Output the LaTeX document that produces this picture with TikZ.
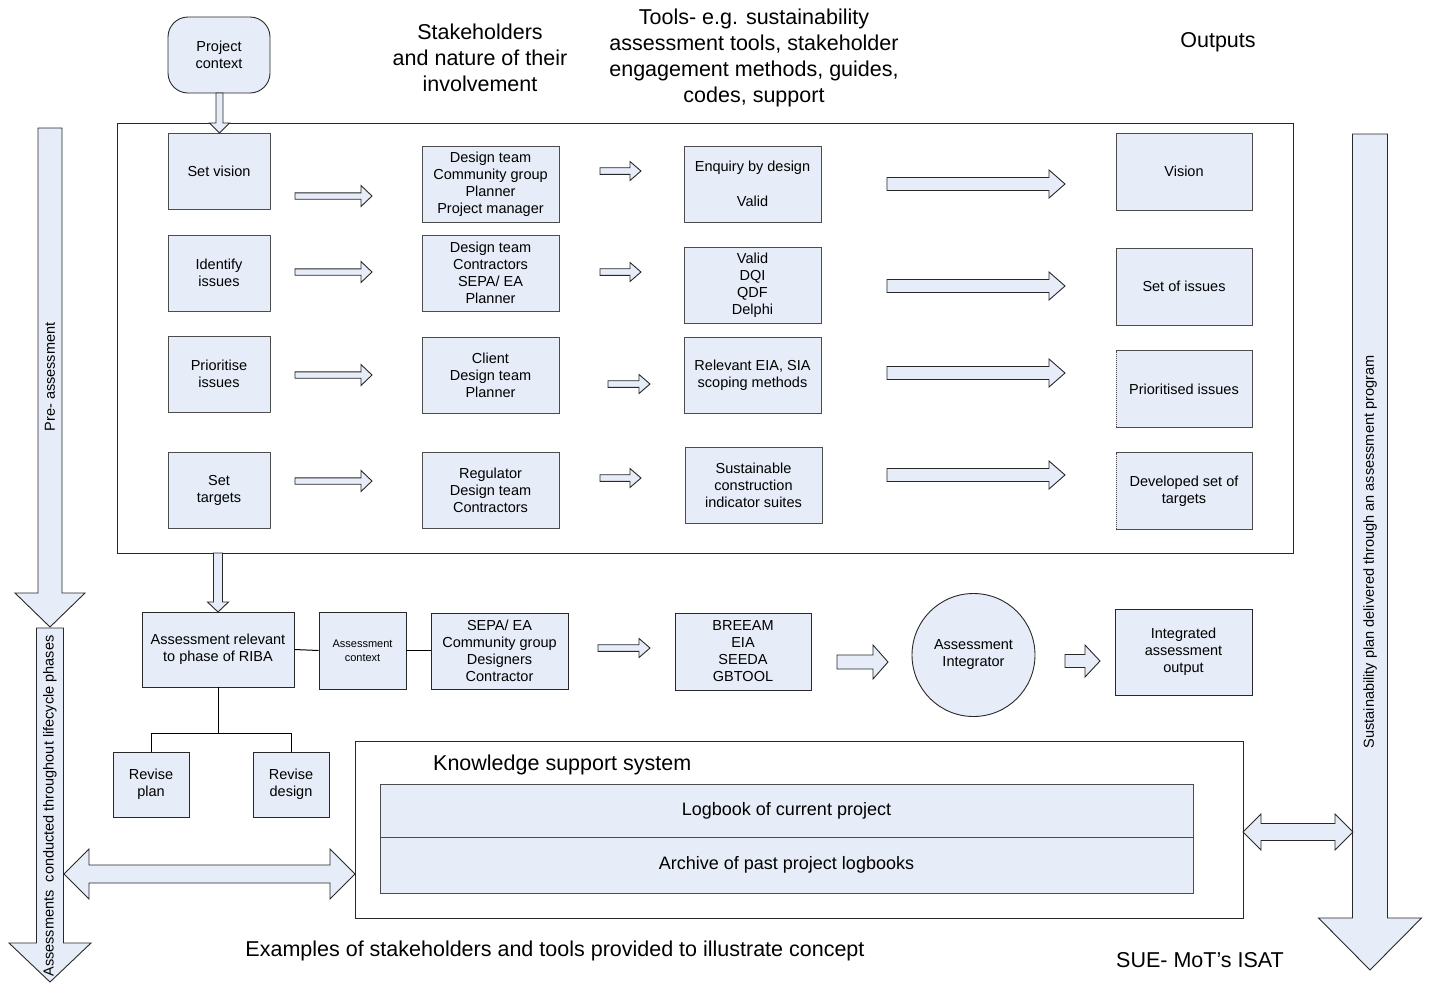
\documentclass[tikz,border=0pt]{standalone}
\usepackage{fontspec}
\setmainfont{Liberation Sans}
\definecolor{fillc}{RGB}{230,236,248}
\definecolor{linec}{RGB}{40,40,40}
\newcommand\fsb{\fontsize{14.5}{17}\selectfont}
\newcommand\fsh{\fontsize{21.5}{26}\selectfont}
\newcommand\fsm{\fontsize{18}{22}\selectfont}
\newcommand\fss{\fontsize{11}{14}\selectfont}
% horizontal block arrow: x1 x2 y shaft head headlen
\newcommand\harr[6]{\draw[barrow] (#1,#3-#4) -- (#2-#6,#3-#4) -- (#2-#6,#3-#5) -- (#2,#3) -- (#2-#6,#3+#5) -- (#2-#6,#3+#4) -- (#1,#3+#4) -- cycle;}
% vertical block arrow: x y1 y2 shaft head headlen
\newcommand\varr[6]{\draw[barrow] (#1-#4,#2) -- (#1-#4,#3-#6) -- (#1-#5,#3-#6) -- (#1,#3) -- (#1+#5,#3-#6) -- (#1+#4,#3-#6) -- (#1+#4,#2) -- cycle;}
% double block arrow: x1 x2 y shaft head headlen
\newcommand\darr[6]{\draw[barrow] (#1,#3) -- (#1+#6,#3-#5) -- (#1+#6,#3-#4) -- (#2-#6,#3-#4) -- (#2-#6,#3-#5) -- (#2,#3) -- (#2-#6,#3+#5) -- (#2-#6,#3+#4) -- (#1+#6,#3+#4) -- (#1+#6,#3+#5) -- cycle;}
\tikzset{
  barrow/.style={draw=linec, fill=fillc, line width=0.9pt, line join=miter},
  ubox/.style={draw=black!70, fill=fillc, dash pattern=on 1.6pt off 0.4pt, line width=0.9pt, align=center, font=\fsb, inner sep=0pt},
  sbox/.style={draw=linec, fill=fillc, line width=0.9pt, align=center, font=\fsb, inner sep=0pt},
  frame/.style={draw=linec, line width=1pt},
  conn/.style={draw=black, line width=1pt},
  head/.style={align=center, font=\fsh, inner sep=0pt},
}
\begin{document}
\begin{tikzpicture}[x=1pt,y=-1pt]
\useasboundingbox (0,0) rectangle (1430,983);
\fill[white] (0,0) rectangle (1430,983);

% headers
\node[sbox, rounded corners=20pt, minimum width=102, minimum height=76] (pc) at (219,55) {Project\\context};
\node[head] (h1) at (480,58) {Stakeholders\\and nature of their\\involvement};
\node[head] (h2) at (754,58) {Tools- e.g. sustainability\\assessment tools, stakeholder\\engagement methods, guides,\\codes, support};
\node[head] (h3) at (1218,42) {Outputs};

% main frame
\node[frame, minimum width=1176, minimum height=430, inner sep=0] (fr) at (705,338) {};

% column 1
\node[ubox, minimum width=102, minimum height=76] (sv) at (219,171) {Set vision};
\node[ubox, minimum width=102, minimum height=76] (ii) at (219,273) {Identify\\issues};
\node[ubox, minimum width=102, minimum height=76] (pi) at (219,374) {Prioritise\\issues};
\node[ubox, minimum width=102, minimum height=76] (st) at (219,490) {Set\\targets};

% column 2
\node[ubox, minimum width=137, minimum height=76] (s1) at (490.5,184) {Design team\\Community group\\Planner\\Project manager};
\node[ubox, minimum width=137, minimum height=76] (s2) at (490.5,273) {Design team\\Contractors\\SEPA/ EA\\Planner};
\node[ubox, minimum width=137, minimum height=76] (s3) at (490.5,375) {Client\\Design team\\Planner};
\node[ubox, minimum width=137, minimum height=76] (s4) at (490.5,490) {Regulator\\Design team\\Contractors};

% column 3
\node[ubox, minimum width=137, minimum height=76] (t1) at (752.5,184) {Enquiry by design\\[18pt]Valid};
\node[ubox, minimum width=137, minimum height=76] (t2) at (752.5,285) {Valid\\DQI\\QDF\\Delphi};
\node[ubox, minimum width=137, minimum height=76] (t3) at (752.5,375) {Relevant EIA, SIA\\scoping methods};
\node[ubox, minimum width=137, minimum height=76] (t4) at (753.5,485) {Sustainable\\construction\\indicator suites};

% column 4
\node[ubox, minimum width=136, minimum height=77] (o1) at (1184,171.5) {Vision};
\node[ubox, minimum width=136, minimum height=77] (o2) at (1184,286.5) {Set of issues};
\node[ubox, minimum width=136, minimum height=77] (o3) at (1184,389) {Prioritised issues};
\node[ubox, minimum width=136, minimum height=77] (o4) at (1184,491) {Developed set of\\targets};

% arrows col1 -> col2
\harr{295}{372}{196}{3.2}{10.5}{11}
\harr{295}{372}{272}{3.2}{10.5}{11}
\harr{295}{372}{375}{3.2}{10.5}{11}
\harr{295}{372}{481}{3.2}{10.5}{11}
% arrows col2 -> col3
\harr{600}{641}{171}{3.3}{9.5}{11}
\harr{600}{641}{272}{3.3}{9.5}{11}
\harr{608}{650}{384}{3.3}{9.5}{11}
\harr{600}{641}{478}{3.3}{9.5}{11}
% arrows col3 -> col4
\harr{887}{1065}{184}{6.5}{14}{16}
\harr{887}{1065}{286}{6.5}{14}{16}
\harr{887}{1065}{373}{6.5}{14}{16}
\harr{887}{1065}{475}{6.5}{14}{16}

% vertical arrows
\varr{219.5}{93}{133}{3.5}{10}{10}
\varr{218}{553}{612}{4.5}{10.5}{10}

% lower row
\node[sbox, minimum width=152, minimum height=75] (ar) at (218,649.5) {Assessment relevant\\to phase of RIBA};
\node[sbox, font=\fss, minimum width=87, minimum height=77] (ac) at (362.5,650.5) {Assessment\\context};
\node[sbox, minimum width=137, minimum height=76] (se) at (499.5,651) {SEPA/ EA\\Community group\\Designers\\Contractor};
\node[sbox, minimum width=136, minimum height=77] (br) at (743,651.5) {BREEAM\\EIA\\SEEDA\\GBTOOL};
\node[sbox, circle, minimum size=123] (ai) at (973.5,655) {Assessment\\Integrator};
\node[sbox, minimum width=137, minimum height=86] (io) at (1183.5,652) {Integrated\\assessment\\output};
\draw[conn] (ar.east) -- (ac.west);
\draw[conn] (ac.east) -- (ac.east -| se.west);
\harr{598}{650}{648}{3.3}{9.5}{11}
\harr{837}{888}{662}{7}{17}{15}
\harr{1065}{1100}{661}{6.5}{16}{15}

% revise boxes
\node[sbox, minimum width=76, minimum height=65] (rp) at (151,784.5) {Revise\\plan};
\node[sbox, minimum width=76, minimum height=65] (rd) at (291,784.5) {Revise\\design};
\coordinate (split) at (218,733);
\draw[conn] (ar.south) -- (split);
\draw[conn] (split) -| (rp.north);
\draw[conn] (split) -| (rd.north);

% knowledge support system
\node[frame, fill=white, minimum width=888, minimum height=177, inner sep=0] (ks) at (799,829.5) {};
\node[font=\fsh, anchor=west, inner sep=0] (kst) at (433,765) {Knowledge support system};
\node[ubox, font=\fsm, minimum width=813, minimum height=53] (lb) at (786.5,810.5) {Logbook of current project};
\node[ubox, font=\fsm, minimum width=813, minimum height=56] (al) at (786.5,865) {Archive of past project logbooks};

% side arrows
\varr{50}{128}{627}{12}{35}{34}
\varr{50}{628}{982}{13.5}{41}{39}
\varr{1370}{134}{970}{17.5}{51.5}{52}
\node[font=\fsb, rotate=90, inner sep=0] (pa) at (50,377) {Pre- assessment};
\node[font=\fsb, rotate=90, inner sep=0] (ac2) at (50,806) {Assessments\ \ conducted throughout lifecycle phases};
\node[font=\fsb, rotate=90, inner sep=0] (sp) at (1370,552) {Sustainability plan delivered through an assessment program};

% double arrows
\darr{64}{355}{874}{9}{25}{25}
\darr{1243}{1353}{832}{8.5}{18}{18}

% footer
\node[font=\fsh, inner sep=0] (ex) at (555,951) {Examples of stakeholders and tools provided to illustrate concept};
\node[font=\fsh, inner sep=0] (sue) at (1200,960) {SUE- MoT's ISAT};
\end{tikzpicture}
\end{document}
